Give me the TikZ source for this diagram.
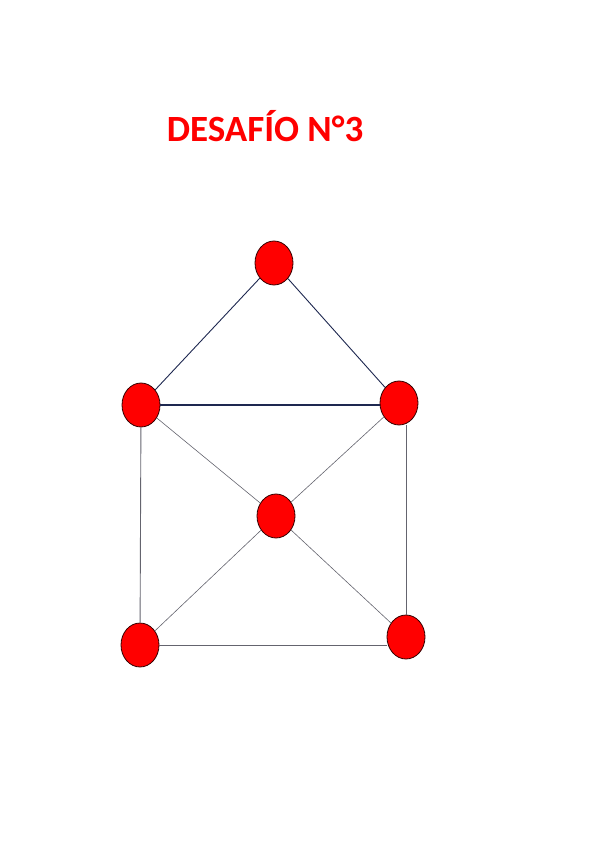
\documentclass[tikz,border=0pt]{standalone}
\usepackage{fontspec}
\setmainfont{Carlito}
\usetikzlibrary{shapes.geometric}

\definecolor{navyline}{RGB}{30,40,80}
\definecolor{grayline}{RGB}{100,100,110}
\tikzset{
  vertex/.style={ellipse, draw=black!80!red, fill=red, line width=0.8pt,
    minimum width=38pt, minimum height=44pt, inner sep=0pt},
  topedge/.style={draw=navyline, line width=0.9pt},
  sideedge/.style={draw=grayline, line width=0.9pt},
  crossedge/.style={draw=grayline, line width=0.6pt}
}

\begin{document}
\begin{tikzpicture}[x=1pt, y=-1pt]
\useasboundingbox (0,0) rectangle (600,848);

% title
\node (title) [text=red, font=\bfseries\fontsize{37}{40}\selectfont] at (265,126) {DESAF\'IO N°3};

\node[vertex] (v1) at (274,263) {};
\node[vertex] (v2) at (141,405) {};
\node[vertex] (v3) at (399,403) {};
\node[vertex] (v4) at (276,516) {};
\node[vertex] (v5) at (140,645) {};
\node[vertex] (v6) at (406,637) {};

\draw[topedge] (v1) -- (v2);
\draw[topedge] (v1) -- (v3);
\draw[topedge, line width=1.3pt] (v2) -- (v2 -| v3.west);
\draw[crossedge] (v2) -- (v4);
\draw[crossedge] (v3) -- (v4);
\draw[crossedge] (v4) -- (v5);
\draw[crossedge] (v4) -- (v6);
\draw[sideedge] (v2) -- (v5);
\draw[sideedge] (v6) -- (v6 |- v3.south);
\draw[sideedge] (v5) -- (v5 -| v6.west);

\end{tikzpicture}
\end{document}
